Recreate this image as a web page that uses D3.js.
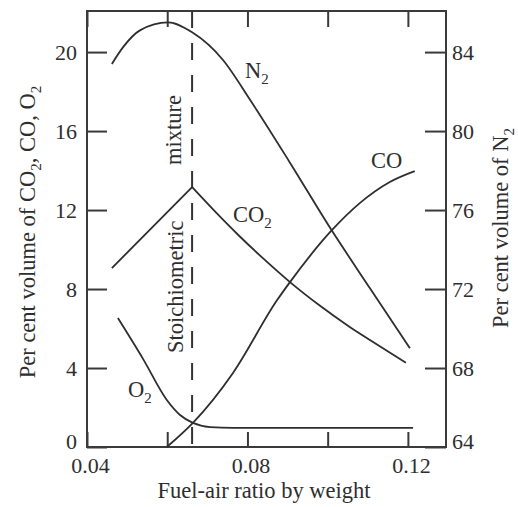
<!DOCTYPE html>
<html>
<head>
<meta charset="utf-8">
<script src="https://cdn.jsdelivr.net/npm/d3@7"></script>
<style>
  body { margin: 0; background: #fff; }
  .chart text { font-family: "Liberation Serif", "DejaVu Serif", serif; fill: #2e2e2e; }
  .axis text { font-size: 22px; }
  .axis line { stroke: #3a3a3a; stroke-width: 2; }
  .axis path { display: none; }
</style>
</head>
<body>
<div class="chart"></div>
<script>
//==================================
// Data
//==================================
// fuel-air ratio by weight (x) for each curve
var n2Ratio = [0.0462, 0.0490, 0.0532, 0.0602, 0.0662, 0.0739, 0.0806, 0.0906, 0.1006, 0.1105, 0.1205];
var n2Value = [83.4, 84.25, 85.1, 85.5, 85.0, 83.6, 81.6, 78.4, 75.1, 72.05, 69.0];

var co2Ratio = [0.0462, 0.0662, 0.0719, 0.0781, 0.0844, 0.0906, 0.0981, 0.1055, 0.1125, 0.1195];
var co2Value = [9.06, 13.16, 11.93, 10.66, 9.46, 8.35, 7.15, 6.08, 5.17, 4.27];

var coRatio = [0.0599, 0.0664, 0.0764, 0.0874, 0.0906, 0.1011, 0.1080, 0.1155, 0.1217];
var coValue = [0, 1.22, 3.75, 7.44, 8.35, 10.99, 12.35, 13.42, 13.97];

var o2Ratio = [0.0477, 0.0540, 0.0599, 0.0632, 0.0664, 0.0707, 0.0764, 0.1000, 0.1213];
var o2Value = [6.53, 4.45, 2.38, 1.62, 1.22, 1.01, 0.97, 0.97, 0.97];

var stoichRatio = 0.0662;

// tick labels
var xTicks = [0.04, 0.06, 0.08, 0.10, 0.12];
var xTickLabels = ["0.04", "", "0.08", "", "0.12"];
var leftTicks = [0, 4, 8, 12, 16, 20];
var rightTicks = [64, 68, 72, 76, 80, 84];

//==================================
// Set up our chart
//==================================
var svgWidth = 518;
var svgHeight = 507;
var margin = { top: 11, right: 72, bottom: 60, left: 87 };
var width = svgWidth - margin.left - margin.right;
var height = svgHeight - margin.top - margin.bottom;
var labelSize = "22.5px";

var svg = d3
  .select(".chart")
  .append("svg")
  .attr("width", svgWidth)
  .attr("height", svgHeight);

var chart = svg.append("g")
  .attr("transform", "translate(" + margin.left + "," + margin.top + ")");

// scales: left axis 0..~22, right axis is the same shifted by 64
var xScale = d3.scaleLinear().domain([0.04, 0.1295]).range([0, width]);
var yLeft = d3.scaleLinear().domain([0, 22.08]).range([height, 0]);
var yRight = d3.scaleLinear().domain([64, 86.08]).range([height, 0]);

// axes with inward ticks
var bottomAxis = d3.axisBottom(xScale)
  .tickValues(xTicks)
  .tickFormat(function(d, i) { return xTickLabels[i]; })
  .tickSizeInner(-15).tickSizeOuter(0).tickPadding(10);
var topAxis = d3.axisTop(xScale)
  .tickValues(xTicks)
  .tickFormat("")
  .tickSizeInner(-16).tickSizeOuter(0);
var leftAxis = d3.axisLeft(yLeft)
  .tickValues(leftTicks)
  .tickSizeInner(-20).tickSizeOuter(0).tickPadding(10);
var rightAxis = d3.axisRight(yRight)
  .tickValues(rightTicks)
  .tickSizeInner(-21).tickSizeOuter(0).tickPadding(6);

var xAxisG = chart.append("g").attr("class", "axis")
  .attr("transform", "translate(0," + height + ")")
  .call(bottomAxis);
xAxisG.selectAll("text").attr("dx", 3);

chart.append("g").attr("class", "axis").call(topAxis);

var leftG = chart.append("g").attr("class", "axis").call(leftAxis);
var rightG = chart.append("g").attr("class", "axis")
  .attr("transform", "translate(" + width + ",0)")
  .call(rightAxis);

// bottom labels sit a little higher so they clear the x labels
leftG.selectAll(".tick").filter(function(d) { return d === 0; })
  .select("text").attr("y", -6);
rightG.selectAll(".tick").filter(function(d) { return d === 64; })
  .select("text").attr("y", -6);

// frame
chart.append("rect")
  .attr("width", width)
  .attr("height", height)
  .attr("fill", "none")
  .attr("stroke", "#3a3a3a")
  .attr("stroke-width", 2);

// stoichiometric line
chart.append("line")
  .attr("x1", xScale(stoichRatio))
  .attr("x2", xScale(stoichRatio))
  .attr("y1", 0)
  .attr("y2", height)
  .attr("stroke", "#333")
  .attr("stroke-width", 2)
  .attr("stroke-dasharray", "17,15");

// curves
function zipData(xs, ys) {
  return xs.map(function(x, i) { return [x, ys[i]]; });
}

var smoothLeft = d3.line()
  .x(function(d) { return xScale(d[0]); })
  .y(function(d) { return yLeft(d[1]); })
  .curve(d3.curveMonotoneX);
var straightLeft = d3.line()
  .x(function(d) { return xScale(d[0]); })
  .y(function(d) { return yLeft(d[1]); });
var smoothRight = d3.line()
  .x(function(d) { return xScale(d[0]); })
  .y(function(d) { return yRight(d[1]); })
  .curve(d3.curveMonotoneX);

// CO2 has a sharp peak at the stoichiometric point: straight on the lean side, smooth on the rich side
var co2Data = zipData(co2Ratio, co2Value);

var curves = [
  smoothRight(zipData(n2Ratio, n2Value)),
  straightLeft(co2Data.slice(0, 2)),
  smoothLeft(co2Data.slice(1)),
  smoothLeft(zipData(coRatio, coValue)),
  smoothLeft(zipData(o2Ratio, o2Value))
];

chart.selectAll(".curve")
  .data(curves)
  .enter()
  .append("path")
  .attr("class", "curve")
  .attr("d", function(d) { return d; })
  .attr("fill", "none")
  .attr("stroke", "#2e2e2e")
  .attr("stroke-width", 1.8)
  .attr("stroke-linejoin", "round");

// curve labels with subscripts (positions in svg pixels)
function chemLabel(x, y, main, sub) {
  var t = svg.append("text")
    .attr("x", x)
    .attr("y", y)
    .style("font-size", labelSize);
  t.append("tspan").text(main);
  if (sub) {
    t.append("tspan").attr("dy", 6).style("font-size", "15px").text(sub);
  }
  return t;
}

chemLabel(245, 78, "N", "2");
chemLabel(233, 222, "CO", "2");
chemLabel(371, 168, "CO", "");
chemLabel(128, 397, "O", "2");

// rotated labels on the dashed line
svg.append("text")
  .attr("transform", "translate(183,353) rotate(-90)")
  .style("font-size", labelSize)
  .text("Stoichiometric");
svg.append("text")
  .attr("transform", "translate(181,165) rotate(-90)")
  .style("font-size", labelSize)
  .text("mixture");

// x axis title
svg.append("text")
  .attr("x", 264)
  .attr("y", 498)
  .attr("text-anchor", "middle")
  .style("font-size", labelSize)
  .text("Fuel-air ratio by weight");

// left axis title
var leftTitle = svg.append("text")
  .attr("transform", "translate(35,232) rotate(-90)")
  .attr("text-anchor", "middle")
  .style("font-size", labelSize);
leftTitle.append("tspan").text("Per cent volume of CO");
leftTitle.append("tspan").attr("dy", 6).style("font-size", "15px").text("2");
leftTitle.append("tspan").attr("dy", -6).text(", CO, O");
leftTitle.append("tspan").attr("dy", 6).style("font-size", "15px").text("2");

// right axis title
var rightTitle = svg.append("text")
  .attr("transform", "translate(508,228) rotate(-90)")
  .attr("text-anchor", "middle")
  .style("font-size", labelSize);
rightTitle.append("tspan").text("Per cent volume of N");
rightTitle.append("tspan").attr("dy", 6).style("font-size", "15px").text("2");
</script>
</body>
</html>
